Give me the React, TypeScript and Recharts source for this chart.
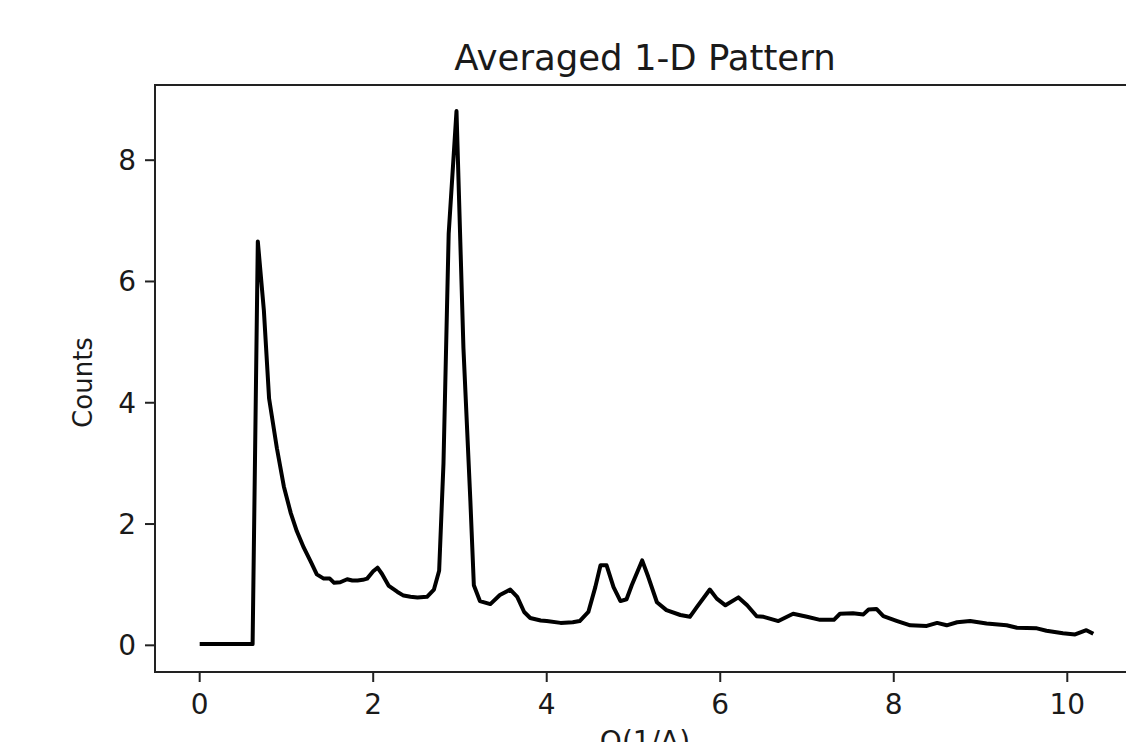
import { LineChart, Line, XAxis, YAxis, ReferenceArea } from "recharts";

// Q values (1/A) and averaged counts
const qValues = [
  0, 0.3, 0.61, 0.67, 0.74, 0.8, 0.89, 0.97, 1.05, 1.12, 1.2, 1.28, 1.35, 1.43, 1.5, 1.55,
  1.62, 1.7, 1.76, 1.82, 1.88, 1.93, 2.0, 2.05, 2.1, 2.18, 2.28, 2.35, 2.43, 2.51, 2.62, 2.7,
  2.76, 2.81, 2.85, 2.87, 2.96, 3.04, 3.12, 3.16, 3.23, 3.35, 3.46, 3.58, 3.66, 3.74, 3.81,
  3.93, 4.0, 4.16, 4.3, 4.38, 4.48, 4.56, 4.62, 4.69, 4.77, 4.85, 4.92, 4.98, 5.1, 5.17, 5.27,
  5.38, 5.54, 5.65, 5.73, 5.88, 5.96, 6.06, 6.21, 6.31, 6.42, 6.5, 6.67, 6.84, 7.0, 7.15, 7.31,
  7.38, 7.53, 7.65, 7.71, 7.8, 7.88, 8.04, 8.19, 8.38, 8.5, 8.61, 8.73, 8.88, 9.07, 9.3, 9.42,
  9.65, 9.76, 9.95, 10.09, 10.22, 10.3,
];

const counts = [
  0.02, 0.02, 0.02, 6.66, 5.52, 4.07, 3.25, 2.62, 2.18, 1.88, 1.61, 1.38, 1.17, 1.1, 1.1, 1.03,
  1.04, 1.09, 1.07, 1.07, 1.08, 1.1, 1.22, 1.28, 1.18, 0.98, 0.88, 0.82, 0.8, 0.79, 0.8, 0.92,
  1.23, 3.0, 5.53, 6.79, 8.81, 4.9, 2.38, 0.99, 0.73, 0.68, 0.83, 0.92, 0.8, 0.55, 0.45,
  0.41, 0.4, 0.37, 0.38, 0.4, 0.55, 0.96, 1.32, 1.32, 0.96, 0.73, 0.76, 0.99, 1.4, 1.13, 0.71,
  0.58, 0.5, 0.47, 0.63, 0.92, 0.77, 0.66, 0.79, 0.66, 0.48, 0.47, 0.4, 0.52, 0.47, 0.42, 0.42,
  0.52, 0.53, 0.51, 0.59, 0.6, 0.48, 0.4, 0.33, 0.32, 0.37, 0.33, 0.38, 0.4, 0.36, 0.33, 0.29,
  0.28, 0.24, 0.2, 0.18, 0.25, 0.19,
];

const xTicks = [0, 2, 4, 6, 8, 10];
const yTicks = [0, 2, 4, 6, 8];

// matplotlib-style 5% margins around the data
const X_DOMAIN: [number, number] = [-0.515, 10.815];
const Y_DOMAIN: [number, number] = [-0.44, 9.24];

const FONT = "'DejaVu Sans', sans-serif";
const TEXT = "#1a1a1a";

export default function App() {
  const data = qValues.map((q, i) => ({ q, counts: counts[i] }));

  return (
    <div
      style={{
        position: "absolute",
        left: 0,
        top: 0,
        width: 1126,
        height: 742,
        overflow: "hidden",
        background: "#fff",
      }}
    >
      <LineChart
        width={1200}
        height={800}
        data={data}
        margin={{ top: 85, right: 62, bottom: 0, left: 0 }}
      >
        <ReferenceArea
          x1={X_DOMAIN[0]}
          x2={X_DOMAIN[1]}
          y1={Y_DOMAIN[0]}
          y2={Y_DOMAIN[1]}
          fill="none"
          stroke="#222"
          strokeWidth={2}
          ifOverflow="visible"
        />
        <XAxis
          type="number"
          dataKey="q"
          domain={X_DOMAIN}
          ticks={xTicks}
          allowDataOverflow
          height={128}
          axisLine={{ stroke: "#222", strokeWidth: 2 }}
          tickLine={{ stroke: "#222", strokeWidth: 2 }}
          tickSize={10}
          tickMargin={12}
          tick={{ fontSize: 28, fill: TEXT, fontFamily: FONT }}
        />
        <YAxis
          type="number"
          domain={Y_DOMAIN}
          ticks={yTicks}
          allowDataOverflow
          width={155}
          axisLine={{ stroke: "#222", strokeWidth: 2 }}
          tickLine={{ stroke: "#222", strokeWidth: 2 }}
          tickSize={10}
          tickMargin={9}
          tick={{ fontSize: 28, fill: TEXT, fontFamily: FONT }}
        />
        <Line
          type="linear"
          dataKey="counts"
          stroke="#000"
          strokeWidth={4}
          strokeLinejoin="round"
          dot={false}
          isAnimationActive={false}
        />
      </LineChart>

      {/* title and axis titles */}
      <svg
        width={1126}
        height={742}
        style={{ position: "absolute", left: 0, top: 0, pointerEvents: "none" }}
      >
        <text x={645} y={70} textAnchor="middle" fontSize={35.5} fontFamily={FONT} fill={TEXT}>
          Averaged 1-D Pattern
        </text>
        <text
          x={82.5}
          y={382.5}
          transform="rotate(-90 82.5 382.5)"
          textAnchor="middle"
          dominantBaseline="central"
          fontSize={26}
          fontFamily={FONT}
          fill={TEXT}
        >
          Counts
        </text>
        <text x={645} y={751} textAnchor="middle" fontSize={28} fontFamily={FONT} fill={TEXT}>
          Q(1/A)
        </text>
      </svg>
    </div>
  );
}
